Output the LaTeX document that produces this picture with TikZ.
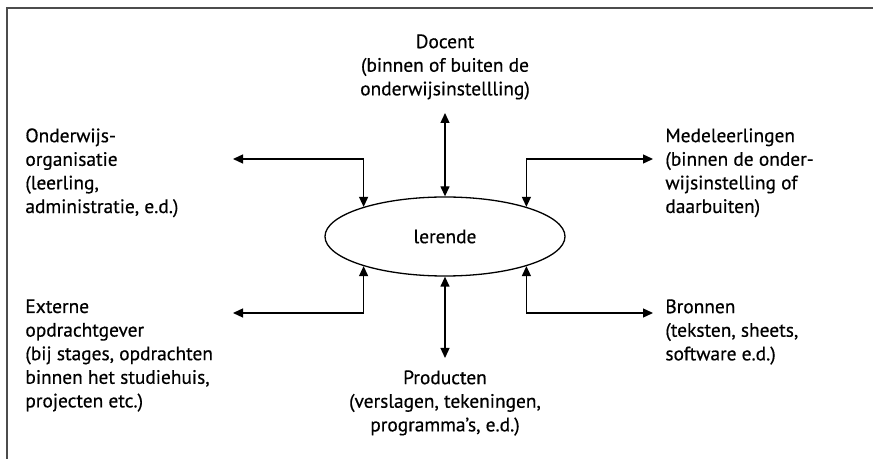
\documentclass[tikz,border=0pt]{standalone}
\usepackage{fontspec}
\setmainfont[FakeBold=0.5]{PT Sans}
\usetikzlibrary{arrows.meta, shapes.geometric}
\begin{document}
\begin{tikzpicture}[x=0.5pt, y=-0.5pt,
		txt/.style={inner sep=0pt, font=\fontsize{9.7}{11.8}\selectfont},
		pijl/.style={{Triangle[length=5pt,width=4.5pt]}-{Triangle[length=5pt,width=4.5pt]}, line width=0.65pt}]
		\useasboundingbox (0,0) rectangle (873,459);
		\draw[black!70, line width=0.6pt] (7,459) -- (7,8) -- (873,8);
		% midden
		\node[draw, ellipse, line width=0.65pt, minimum width=120pt, minimum height=39.5pt, txt] (lerende) at (445,236.5) {lerende};
		% teksten rondom
		\node[txt, anchor=north, align=center] (docent) at (445,34) {Docent\\(binnen of buiten de\\onderwijsinstellling)};
		\node[txt, anchor=north west, align=left] (onderwijs) at (25,128) {Onderwijs-\\organisatie\\(leerling,\\administratie, e.d.)};
		\node[txt, anchor=north west, align=left] (medeleerlingen) at (665,128) {Medeleerlingen\\(binnen de onder-\\wijsinstelling of\\daarbuiten)};
		\node[txt, anchor=north west, align=left] (externe) at (25,299) {Externe\\opdrachtgever\\(bij stages, opdrachten\\binnen het studiehuis,\\projecten etc.)};
		\node[txt, anchor=north west, align=left] (bronnen) at (665,299) {Bronnen\\(teksten, sheets,\\software e.d.)};
		\node[txt, anchor=north, align=center] (producten) at (445,370) {Producten\\(verslagen, tekeningen,\\programma's, e.d.)};
		% eindpunten van de pijlen
		\coordinate (docent-tip) at (445,113);
		\coordinate (producten-tip) at (445,358);
		\coordinate (onderwijs-tip) at (233,159);
		\coordinate (medeleerlingen-tip) at (653,159);
		\coordinate (externe-tip) at (233,313);
		\coordinate (bronnen-tip) at (653,313);
		\draw[pijl] (docent-tip) -- (lerende.north);
		\draw[pijl] (lerende.south) -- (producten-tip);
		\draw[pijl] (onderwijs-tip) -| (lerende.160);
		\draw[pijl] (medeleerlingen-tip) -| (lerende.20);
		\draw[pijl] (externe-tip) -| (lerende.200);
		\draw[pijl] (bronnen-tip) -| (lerende.340);
	\end{tikzpicture}
\end{document}
